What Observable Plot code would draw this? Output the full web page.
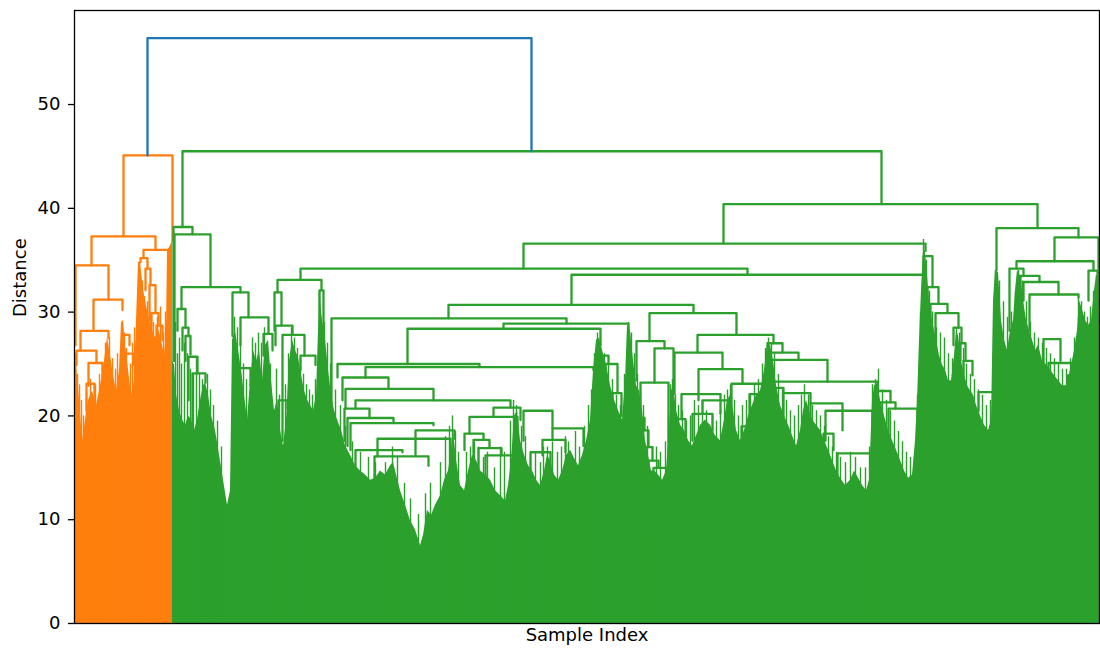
<!DOCTYPE html>
<html><head><meta charset="utf-8">
<script src="https://cdn.jsdelivr.net/npm/d3@7"></script>
<script src="https://cdn.jsdelivr.net/npm/@observablehq/plot@0.6"></script>
<style>body{margin:0;background:#fff}</style>
</head><body><div id="chart"></div>
<script>
// y-axis ticks
const yTicks = [0, 10, 20, 30, 40, 50];

// dense lower part of each cluster: [leaf position, distance]
const orangeEdge = [[0,25.3],[2,25.0],[5,21.5],[8,17.6],[11,19.6],[14,21.5],[18,22.4],[22,21.0],[26,22.9],[30,25.3],[33,27.6],[36,25.8],[39,23.9],[42,22.4],[45,24.4],[47,29.0],[49,29.2],[51,26.8],[54,24.4],[57,22.0],[60,23.4],[62,29.2],[64,34.8],[66,34.8],[69,32.1],[72,30.6],[75,29.2],[78,28.2],[81,27.5],[84,28.4],[87,27.3],[90,25.8],[92,28.2],[93,35.9],[96,36.4],[98,36.9]];

const greenEdge = [[98,25.3],[100,24.9],[102,22.0],[105,20.5],[108,19.6],[111,19.1],[114,20.0],[117,19.6],[120,18.6],[123,19.6],[126,21.5],[129,22.9],[131,23.2],[134,22.0],[137,20.0],[141,18.6],[145,16.2],[149,13.8],[153,11.4],[156,12.8],[158,27.3],[161,28.2],[164,26.3],[167,24.4],[170,22.0],[173,19.6],[176,23.4],[179,26.3],[182,25.3],[185,26.3],[188,23.4],[191,26.8],[194,27.3],[197,23.4],[200,20.5],[203,21.5],[206,18.6],[209,17.1],[212,19.6],[215,25.3],[218,27.3],[221,26.3],[224,25.6],[227,23.9],[230,22.4],[233,21.5],[236,21.0],[239,20.5],[242,22.0],[244,28.2],[246,31.1],[248,29.2],[251,27.3],[254,24.4],[257,22.0],[260,20.5],[263,19.6],[267,18.6],[271,17.1],[276,16.2],[281,15.2],[286,14.7],[291,14.3],[296,13.8],[301,14.0],[306,14.7],[311,14.3],[316,15.2],[319,15.5],[322,14.3],[326,12.8],[331,11.4],[336,9.9],[341,9.0],[346,7.5],[349,8.5],[353,10.9],[357,10.4],[361,11.4],[366,12.3],[370,13.8],[374,14.7],[377,16.7],[379,18.4],[382,15.7],[386,13.3],[390,12.8],[394,14.7],[398,16.2],[402,15.7],[406,14.7],[411,14.3],[416,13.8],[421,12.8],[426,12.3],[431,11.8],[434,13.3],[437,15.7],[440,20.0],[443,20.5],[446,17.6],[450,16.2],[454,15.2],[458,14.7],[462,13.8],[466,13.3],[470,14.7],[473,16.2],[476,15.7],[480,14.3],[484,13.8],[488,14.7],[492,16.2],[496,16.7],[500,15.9],[504,15.2],[508,16.2],[512,17.6],[516,19.6],[519,24.4],[522,27.3],[525,27.5],[528,26.3],[532,24.9],[536,22.9],[540,21.5],[544,20.5],[548,19.6],[551,23.4],[553,28.7],[556,28.2],[559,25.3],[562,22.9],[565,22.4],[568,20.5],[571,17.6],[574,16.2],[577,14.7],[580,14.7],[584,14.3],[588,13.8],[592,14.7],[595,18.6],[597,22.4],[599,22.9],[602,20.5],[606,19.1],[610,18.6],[614,17.6],[618,17.1],[622,18.1],[626,19.1],[631,19.6],[636,19.1],[641,18.1],[646,17.6],[650,19.6],[653,21.5],[656,22.0],[659,20.5],[662,18.6],[666,17.6],[670,18.6],[674,20.0],[678,21.0],[682,22.0],[686,22.4],[690,24.4],[693,26.8],[696,26.8],[699,25.3],[702,22.9],[706,21.0],[710,20.0],[714,19.1],[718,18.1],[722,17.1],[726,18.6],[729,20.5],[732,21.5],[735,20.5],[738,19.6],[742,19.1],[746,18.6],[750,17.6],[754,16.7],[758,15.7],[762,14.7],[766,14.0],[771,13.3],[776,13.8],[780,14.7],[784,14.0],[788,13.3],[792,12.8],[795,13.8],[798,21.5],[800,22.9],[803,23.1],[806,21.5],[810,20.0],[814,18.6],[818,17.6],[822,16.7],[826,15.7],[830,14.7],[834,14.0],[838,14.3],[841,17.6],[843,21.5],[845,27.3],[847,32.1],[849,35.9],[851,35.9],[853,33.5],[855,31.1],[857,29.7],[859,28.7],[862,27.3],[865,25.8],[868,24.9],[871,24.4],[874,23.4],[877,23.4],[880,25.8],[882,28.2],[884,27.7],[887,25.3],[890,23.9],[893,22.9],[896,22.4],[899,22.0],[902,21.0],[906,20.0],[910,19.1],[914,18.6],[917,19.6],[919,31.1],[921,34.0],[924,33.8],[927,29.2],[930,27.3],[933,26.3],[936,28.2],[939,29.2],[941,32.1],[943,34.0],[946,33.5],[949,31.1],[952,29.2],[955,28.2],[958,27.3],[961,26.3],[964,26.8],[968,25.3],[972,24.9],[976,24.4],[980,23.9],[984,23.4],[988,22.9],[992,22.9],[996,24.4],[1000,26.3],[1003,28.2],[1005,31.1],[1008,30.2],[1011,29.2],[1014,28.7],[1017,29.2],[1020,32.1],[1022,33.5],[1025,33.5]];

// thin single-leaf lines rising above the dense part: [leaf position, distance]
const orangeNeedles = [[1,26.0],[3,24.0],[5,23.0],[7,21.5],[9,20.0],[12,22.0],[16,23.5],[21,23.0],[25,24.0],[28,25.0],[31,27.0],[35,27.5],[38,25.5],[41,24.5],[43,26.0],[50,28.0],[52,26.5],[56,25.0],[58,27.0],[60,28.5],[68,33.0],[70,31.5],[73,31.0],[76,30.0],[79,29.0],[83,29.5],[86,30.5],[89,28.0],[91,30.0]];

const greenNeedles = [[101,29.0],[103,26.0],[105,27.5],[107,25.0],[110,27.0],[113,26.0],[116,24.5],[119,24.0],[122,25.5],[125,24.0],[128,23.5],[133,24.0],[136,22.5],[139,21.0],[143,19.5],[147,17.0],[160,29.5],[163,28.5],[166,27.0],[169,25.0],[172,23.5],[178,27.5],[181,27.0],[184,28.0],[187,27.0],[190,28.5],[196,25.0],[202,24.5],[205,22.0],[211,23.0],[214,26.0],[217,28.5],[220,27.5],[223,26.5],[226,25.5],[229,24.0],[232,23.0],[235,22.5],[238,22.0],[241,23.5],[245,32.0],[250,29.0],[253,27.0],[256,25.0],[261,22.5],[266,21.0],[271,19.0],[278,17.5],[286,16.5],[294,16.0],[301,15.5],[311,15.5],[318,17.0],[323,16.0],[330,13.5],[336,12.0],[344,10.5],[351,12.5],[356,13.5],[366,15.5],[371,18.0],[375,19.0],[378,20.0],[381,18.5],[384,16.5],[392,16.5],[396,17.0],[400,17.5],[404,17.0],[409,16.0],[413,16.5],[420,15.0],[426,17.0],[430,16.5],[436,19.5],[439,21.5],[442,21.0],[447,19.0],[451,18.0],[456,16.0],[461,16.5],[466,15.5],[469,17.0],[473,17.0],[478,17.5],[483,16.5],[487,17.0],[491,18.0],[494,17.5],[501,18.5],[505,17.0],[510,19.0],[514,21.0],[517,22.5],[520,26.0],[523,28.0],[526,27.0],[530,26.0],[534,25.0],[538,23.5],[542,22.0],[546,21.0],[550,24.0],[554,29.0],[557,28.0],[560,26.0],[563,24.0],[566,22.5],[569,21.0],[573,19.0],[582,17.0],[586,16.5],[591,17.5],[594,20.0],[596,23.0],[598,23.5],[601,22.0],[604,21.0],[608,20.5],[612,19.5],[616,20.0],[620,21.5],[624,21.0],[628,21.5],[632,20.5],[638,20.0],[642,19.5],[646,20.5],[650,22.0],[653,22.5],[656,23.0],[660,21.5],[664,20.0],[668,21.0],[672,21.5],[676,22.0],[680,23.0],[684,23.5],[688,25.0],[691,26.5],[694,27.5],[697,27.0],[700,26.0],[704,24.0],[708,22.5],[712,21.5],[716,20.5],[720,20.0],[724,21.0],[727,22.0],[730,23.0],[734,22.0],[738,21.0],[742,20.5],[746,20.0],[750,19.0],[754,18.0],[758,17.0],[762,16.5],[766,16.0],[771,15.5],[776,16.5],[781,16.0],[786,15.0],[791,15.0],[795,17.0],[798,23.0],[801,23.5],[804,24.5],[808,22.5],[812,21.5],[816,20.5],[820,19.5],[824,18.5],[828,17.5],[832,16.5],[836,16.0],[840,16.0],[843,22.0],[846,30.0],[849,37.0],[852,35.0],[855,32.0],[858,30.0],[862,28.5],[866,28.0],[870,27.5],[874,26.0],[878,25.5],[882,28.5],[885,28.0],[889,26.5],[892,25.0],[896,24.0],[900,23.5],[904,22.5],[908,22.0],[912,21.0],[916,21.5],[921,34.0],[925,33.0],[929,31.0],[933,29.5],[937,30.0],[941,32.0],[944,34.0],[948,33.0],[952,31.0],[956,29.0],[960,28.0],[964,27.5],[968,27.0],[972,26.5],[976,26.0],[980,25.5],[984,25.0],[988,24.5],[992,24.5],[996,25.5],[1000,27.5],[1004,31.5],[1007,31.0],[1010,30.0],[1013,29.5],[1016,30.5],[1019,32.0],[1022,33.5]];

// merges: [left position, right position, merge distance, left child distance, right child distance]
const blueLinks = [[73,457,56.4,45.1,45.5]];

const orangeLinks = [
  [49,98,45.1,37.3,36.9],[17,81,37.3,34.5,36.0],[69,94,36.0,35.2,35.9],[1,34,34.5,26.8,31.2],
  [19,48,31.2,28.2,30.2],[6,34,28.2,26.3,27.5],[2,22,26.3,24.9,25.1],[14,28,25.1,22.9,23.4],
  [12,20,23.1,20.5,21.5],[66,73,35.2,34.8,34.2],[71,76,34.2,32.1,32.6],[75,81,32.6,29.2,29.9],
  [77,84,29.9,28.2,28.7],[82,88,28.7,26.8,27.3],[48,55,27.8,25.8,26.8],[49,59,26.0,23.9,24.9]
];

const greenLinks = [
  [108,807,45.5,38.2,40.4],[99,118,38.2,25.3,37.5],[100,136,37.5,25.3,32.4],[107,166,32.4,30.3,31.9],
  [103,111,30.3,28.2,28.5],[158,174,31.9,27.7,29.5],[166,194,29.5,26.8,27.9],[189,198,27.9,25.8,26.3],
  [649,963,40.4,36.6,38.1],[449,851,36.6,34.2,35.9],[226,673,34.2,33.1,33.6],[497,849,33.6,30.7,30.0],
  [203,247,33.1,31.9,32.1],[200,207,31.9,28.2,28.7],[201,218,28.7,26.8,27.9],[208,230,27.8,17.6,25.8],
  [226,241,25.8,24.4,24.9],[245,249,32.1,28.2,28.2],[108,114,28.5,26.3,27.7],[111,116,27.7,25.3,25.9],
  [114,123,25.7,21.5,24.1],[118,131,24.1,17.8,23.2],[163,176,24.6,21.5,22.9],[204,213,21.5,18.6,20.7],
  [374,619,30.7,29.4,29.9],[257,492,29.4,20.5,28.9],[429,554,28.9,28.4,28.2],[333,526,28.4,25.0,26.8],
  [263,405,25.0,23.7,24.7],[291,519,24.7,23.7,24.4],[268,314,23.7,21.5,22.6],[271,359,22.6,20.7,21.5],
  [281,436,21.5,20.7,20.8],[270,295,20.7,17.6,19.8],[273,319,19.8,17.1,19.3],[276,359,19.3,16.7,19.1],
  [341,380,18.6,16.2,17.8],[303,376,17.8,16.1,16.2],[281,328,16.7,14.7,16.5],[300,354,16.1,13.8,15.2],
  [419,446,20.8,19.9,19.6],[395,443,19.9,18.3,18.6],[449,478,20.5,17.6,18.8],[390,409,18.3,16.7,17.7],
  [399,415,17.7,15.7,16.9],[404,427,16.9,14.7,16.2],[468,491,17.7,16.2,16.5],[478,509,18.8,17.7,17.1],
  [456,476,16.5,14.7,15.2],[411,439,16.2,13.8,14.7],[523,534,25.8,23.4,25.0],[531,543,25.0,22.0,22.2],
  [538,547,22.2,19.6,20.0],[562,590,27.2,23.4,26.5],[580,599,26.5,23.2,22.4],[566,594,23.2,19.8,14.7],
  [564,570,19.8,17.6,18.6],[567,574,18.6,16.2,17.0],[570,578,17.0,14.7,15.7],[574,584,15.7,8.5,15.0],
  [579,593,15.0,12.8,14.3],[575,662,29.9,27.2,27.8],[623,699,27.8,26.1,27.0],[600,648,26.1,22.1,24.5],
  [624,668,24.5,21.5,23.1],[657,688,23.1,19.0,22.1],[607,646,22.1,19.7,20.2],[628,655,21.5,20.2,19.4],
  [618,638,20.2,17.6,18.6],[603,611,19.7,16.7,17.6],[667,678,19.0,16.7,17.1],[675,687,22.1,19.6,20.5],
  [693,708,27.0,23.4,26.1],[694,724,26.1,23.4,25.4],[696,753,25.4,22.9,23.3],[698,803,23.3,22.7,22.4],
  [698,709,22.7,20.5,22.2],[709,736,22.2,19.6,21.2],[736,768,21.2,17.1,18.6],[751,798,20.5,17.6,19.1],
  [803,816,22.4,21.5,21.3],[806,821,21.3,17.6,20.7],[814,843,20.7,15.7,19.6],[763,796,16.4,13.8,14.7],
  [749,759,18.3,14.7,16.7],[922,1004,38.1,34.0,37.2],[980,1024,37.2,34.9,33.7],[942,1019,34.9,34.2,34.0],
  [935,949,34.2,28.2,33.5],[946,965,33.5,31.1,32.9],[949,984,32.9,31.1,31.7],[955,1004,31.7,28.2,31.4],
  [1014,1023,34.0,31.1,33.5],[969,986,27.4,23.4,25.3],[974,1004,25.1,21.5,23.9],[993,1001,23.9,21.5,21.5],
  [849,858,35.4,34.0,32.4],[853,864,32.4,31.1,30.8],[856,873,30.8,29.2,29.9],[861,884,29.9,26.8,28.5],
  [879,887,28.5,26.8,27.0],[886,891,27.0,25.3,25.3],[889,898,25.3,23.4,23.9],[904,919,22.3,20.5,20.5]
];

function toPaths(links) {
  return links.flatMap(([x1, x2, h, y1, y2], i) => [
    {id: i, x: x1, y: y1}, {id: i, x: x1, y: h}, {id: i, x: x2, y: h}, {id: i, x: x2, y: y2}
  ]);
}

const C_BLUE = "#1f77b4", C_ORANGE = "#ff7f0e", C_GREEN = "#2ca02c";
const lineOpts = {x: "x", y: "y", z: "id", strokeWidth: 2.3, strokeLinejoin: "round", curve: "linear"};
const needleOpts = {x: d => d[0], y1: 0, y2: d => d[1], strokeWidth: 1.4};

const chart = Plot.plot({
  width: 1100, height: 652,
  marginLeft: 74, marginRight: 1, marginTop: 10, marginBottom: 29,
  x: {domain: [0, 1025], axis: null},
  y: {domain: [0, 59.06], axis: null},
  style: {fontFamily: "DejaVu Sans", fontSize: "18px", background: "white", color: "black"},
  marks: [
    Plot.areaY(orangeEdge, {x: d => d[0], y: d => d[1], fill: C_ORANGE, curve: "linear"}),
    Plot.areaY(greenEdge, {x: d => d[0], y: d => d[1], fill: C_GREEN, curve: "linear"}),
    Plot.ruleX(orangeNeedles, {...needleOpts, stroke: C_ORANGE}),
    Plot.ruleX(greenNeedles, {...needleOpts, stroke: C_GREEN}),
    Plot.line(toPaths(orangeLinks), {...lineOpts, stroke: C_ORANGE}),
    Plot.line(toPaths(greenLinks), {...lineOpts, stroke: C_GREEN}),
    Plot.line(toPaths(blueLinks), {...lineOpts, stroke: C_BLUE}),
    Plot.axisY(yTicks, {tickSize: 6, tickPadding: 8, label: null, fontSize: 18, strokeWidth: 1.3}),
    Plot.frame({stroke: "black", strokeWidth: 1.3}),
    Plot.text(["Distance"], {text: d => d, frameAnchor: "left", dx: -54, rotate: -90, fontSize: 18}),
    Plot.text(["Sample Index"], {text: d => d, frameAnchor: "bottom", dy: 17, fontSize: 18})
  ]
});
document.getElementById("chart").appendChild(chart);
</script>
</body></html>
